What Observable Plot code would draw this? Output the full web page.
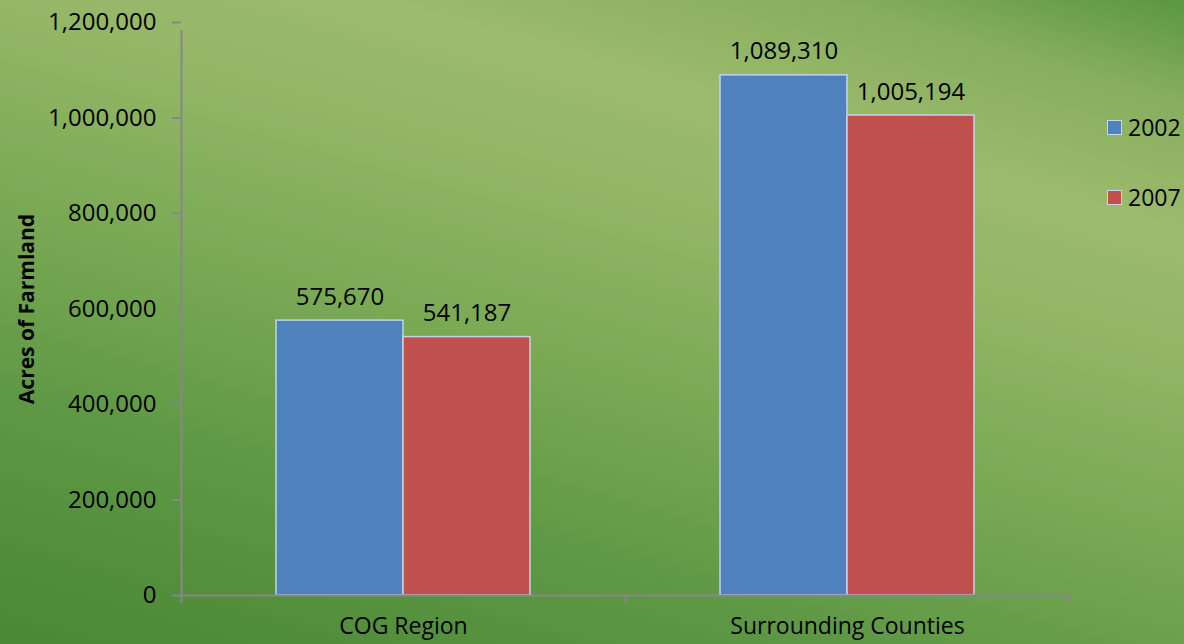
<!DOCTYPE html>
<html>
<head>
<meta charset="utf-8">
<script src="https://cdn.jsdelivr.net/npm/d3@7"></script>
<script src="https://cdn.jsdelivr.net/npm/@observablehq/plot@0.6"></script>
<style>
  html, body { margin: 0; padding: 0; }
  body {
    width: 1184px; height: 644px; overflow: hidden; position: relative;
    font-family: "Open Sans", sans-serif;
    background: linear-gradient(196deg, #5a973f 0%, #86ae5c 10%, #9dbb6d 24%, #93b665 36%, #7aa954 55%, #5e9844 75%, #4a8834 100%);
  }
  #chart svg { display: block; background: transparent; }
  .legend { position: absolute; left: 1107px; font-size: 23px; color: #000; display: flex; align-items: center; }
  .legend .sw { width: 13px; height: 13px; border: 1.5px solid #c9d6ea; margin-right: 6px; box-sizing: content-box; }
</style>
</head>
<body>
<div id="chart"></div>
<div class="legend" style="top:111px"><span class="sw" style="background:#4f81bd"></span>2002</div>
<div class="legend" style="top:181px"><span class="sw" style="background:#c0504d"></span>2007</div>
<script>
const categories = ["COG Region", "Surrounding Counties"];
const years = ["2002", "2007"];
const acres2002 = [575670, 1089310];
const acres2007 = [541187, 1005194];
const yTicks = [0, 200000, 400000, 600000, 800000, 1000000, 1200000];
const colors = ["#4f81bd", "#c0504d"];

const series = [acres2002, acres2007];
const data = categories.flatMap((c, i) => years.map((y, j) => ({category: c, year: y, value: series[j][i]})));

const W = 1184, H = 644, mL = 181, mR = 115, mT = 22, mB = 49;
const bw = (W - mL - mR) / categories.length;   // band width
const barW = bw * 0.286;                          // each bar width
const outer = bw / 2 - barW;                      // gap from band edge to group
const fmt = d3.format(",");
const axisColor = "#878787";

const chart = Plot.plot({
  width: W, height: H,
  marginLeft: mL, marginRight: mR, marginTop: mT, marginBottom: mB,
  style: {fontFamily: "Open Sans, sans-serif", fontSize: "23px", color: "#000", background: "transparent"},
  x: {domain: categories, padding: 0, axis: null},
  y: {domain: [0, 1200000], axis: null},
  color: {domain: years, range: colors},
  marks: [
    Plot.barY(data.filter(d => d.year === years[0]), {x: "category", y: "value", fill: "year", stroke: "#c4d3ea", strokeWidth: 1.5, insetLeft: outer, insetRight: bw - outer - barW}),
    Plot.barY(data.filter(d => d.year === years[1]), {x: "category", y: "value", fill: "year", stroke: "#c4d3ea", strokeWidth: 1.5, insetLeft: bw - outer - barW, insetRight: outer}),
    Plot.text(data.filter(d => d.year === years[0]), {x: "category", y: "value", text: d => fmt(d.value), dx: -barW / 2, dy: -16, lineAnchor: "bottom", fontSize: 24, fill: "#000"}),
    Plot.text(data.filter(d => d.year === years[1]), {x: "category", y: "value", text: d => fmt(d.value), dx: barW / 2, dy: -16, lineAnchor: "bottom", fontSize: 24, fill: "#000"}),
    Plot.ruleY([0], {stroke: axisColor, strokeWidth: 2}),
    Plot.ruleX([categories[0]], {y1: yTicks[0], y2: yTicks[yTicks.length - 1], dx: -bw / 2, stroke: axisColor, strokeWidth: 2, insetBottom: -8}),
    Plot.axisY({ticks: yTicks, tickFormat: fmt, tickSize: 9, tickPadding: 16, stroke: axisColor, strokeWidth: 2, fill: "#000", fontSize: 24, label: null}),
    Plot.axisX({ticks: categories, tickSize: 8, text: null, dx: -bw / 2, stroke: axisColor, strokeWidth: 2, label: null}),
    Plot.axisX({ticks: [categories[categories.length - 1]], tickSize: 8, text: null, dx: bw / 2, stroke: axisColor, strokeWidth: 2, label: null}),
    Plot.axisX({ticks: categories, tickSize: 0, tickPadding: 22, fill: "#000", fontSize: 23, label: null}),
    Plot.text(["Acres of Farmland"], {frameAnchor: "left", textAnchor: "middle", rotate: -90, dx: -154, fontSize: 21, fontWeight: "bold", fill: "#000"})
  ]
});
document.getElementById("chart").append(chart);
</script>
</body>
</html>
